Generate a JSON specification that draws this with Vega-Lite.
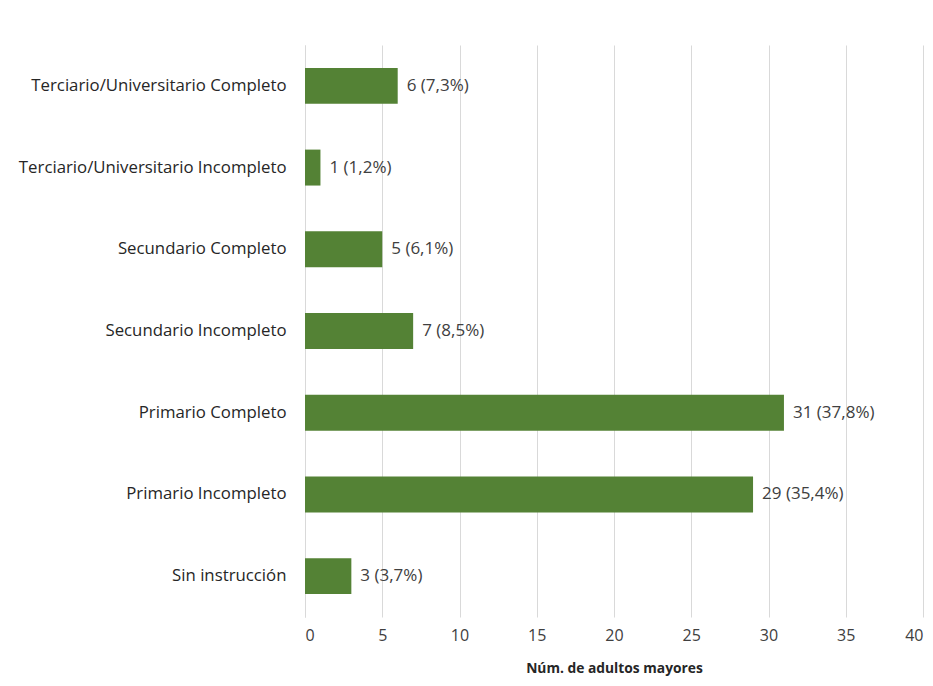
{
  "$schema": "https://vega.github.io/schema/vega-lite/v6.json",
  "width": 618,
  "height": 572,
  "autosize": {"type": "none"},
  "padding": {"left": 305, "top": 45, "right": 10, "bottom": 69},
  "background": "white",
  "config": {
    "view": {"stroke": null},
    "font": "Open Sans"
  },
  "data": {
    "values": [
      {"nivel": "Terciario/Universitario Completo", "n": 6, "label": "6 (7,3%)"},
      {"nivel": "Terciario/Universitario Incompleto", "n": 1, "label": "1 (1,2%)"},
      {"nivel": "Secundario Completo", "n": 5, "label": "5 (6,1%)"},
      {"nivel": "Secundario Incompleto", "n": 7, "label": "7 (8,5%)"},
      {"nivel": "Primario Completo", "n": 31, "label": "31 (37,8%)"},
      {"nivel": "Primario Incompleto", "n": 29, "label": "29 (35,4%)"},
      {"nivel": "Sin instrucción", "n": 3, "label": "3 (3,7%)"}
    ]
  },
  "encoding": {
    "y": {
      "field": "nivel",
      "type": "nominal",
      "sort": null,
      "scale": {"paddingInner": 0.56, "paddingOuter": 0.28},
      "axis": {
        "title": null,
        "ticks": false,
        "domain": true,
        "domainColor": "#d9d9d9",
        "labelFontSize": 16.8,
        "labelColor": "#262626",
        "labelPadding": 19,
        "labelLimit": 320
      }
    },
    "x": {
      "field": "n",
      "type": "quantitative",
      "scale": {"domain": [0, 40], "nice": false},
      "axis": {
        "values": [0, 5, 10, 15, 20, 25, 30, 35, 40],
        "title": "Núm. de adultos mayores",
        "titleFontSize": 13.8,
        "titleFontWeight": "bold",
        "titleColor": "#262626",
        "titlePadding": 18,
        "ticks": false,
        "domain": false,
        "grid": true,
        "gridColor": "#d9d9d9",
        "labelFontSize": 16,
        "labelColor": "#404040",
        "labelPadding": 10
      }
    }
  },
  "layer": [
    {"mark": {"type": "bar", "color": "#548235"}},
    {
      "mark": {"type": "text", "align": "left", "dx": 9, "fontSize": 17, "color": "#404040"},
      "encoding": {"text": {"field": "label"}}
    }
  ]
}
